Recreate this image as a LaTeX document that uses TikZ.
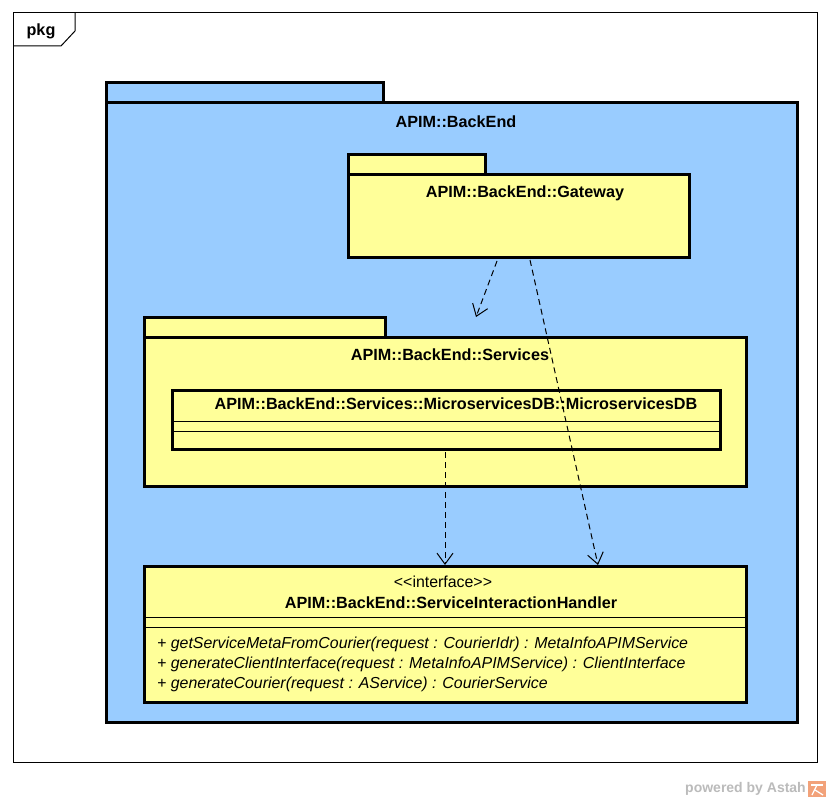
\documentclass[tikz,border=0pt]{standalone}
\usepackage{fontspec}
\setmainfont{Liberation Sans}
\usetikzlibrary{arrows.meta}
\definecolor{pkgblue}{HTML}{99CCFF}
\definecolor{pkgyellow}{HTML}{FFFF99}
\definecolor{astahgray}{HTML}{BBBBBB}
\definecolor{astahorange}{HTML}{F2A27A}
\begin{document}
\begin{tikzpicture}[x=1pt,y=-1pt,
  box/.style={draw, line width=3pt, anchor=north west, inner sep=0pt, outer sep=0pt},
  bluebox/.style={box, fill=pkgblue},
  yellowbox/.style={box, fill=pkgyellow},
  title/.style={inner sep=0pt, font=\fontsize{16.2}{19}\selectfont\bfseries},
  plain/.style={inner sep=0pt, font=\fontsize{15.9}{18}\selectfont},
  op/.style={inner sep=0pt, anchor=west, font=\fontsize{15.9}{18}\selectfont\itshape},
  sep/.style={line width=1pt},
  dep/.style={line width=1pt, dash pattern=on 6pt off 4pt,
    -{Straight Barb[length=11pt,width=16pt,line width=1pt]}}
]
\useasboundingbox (0,0) rectangle (829,802);
\fill[white] (0,0) rectangle (829,802);

% diagram frame
\draw[line width=1pt] (13,13) rectangle (817,762);
\draw[line width=1pt] (13,46) -- (61,46) -- (75,31) -- (75,13);
\node[title] (pkglabel) at (41,31) {pkg};

% APIM::BackEnd package
\node[bluebox, minimum width=277pt, minimum height=20pt] (betab) at (106,83) {};
\node[bluebox, minimum width=691pt, minimum height=619pt] (backend) at (106,103) {};
\node[title] (belabel) at (456,122) {APIM::BackEnd};

% Gateway package
\node[yellowbox, minimum width=137pt, minimum height=20pt] (gwtab) at (348,155) {};
\node[yellowbox, minimum width=341pt, minimum height=82pt] (gateway) at (348,175) {};
\node[title] (gwlabel) at (525,193) {APIM::BackEnd::Gateway};

% Services package
\node[yellowbox, minimum width=241pt, minimum height=20pt] (svtab) at (144,317) {};
\node[yellowbox, minimum width=602pt, minimum height=149pt] (services) at (144,337) {};
\node[title] (svlabel) at (450,355) {APIM::BackEnd::Services};

% MicroservicesDB class
\node[yellowbox, minimum width=548pt, minimum height=59pt] (msdb) at (172,390) {};
\node[title] (msdblabel) at (456,404) {APIM::BackEnd::Services::MicroservicesDB::MicroservicesDB};
\draw[sep] (172,421) -- (720,421);
\draw[sep] (172,431) -- (720,431);

% ServiceInteractionHandler interface
\node[yellowbox, minimum width=602pt, minimum height=136pt] (sih) at (144,566) {};
\node[plain] (stereo) at (443,582) {<\kern0pt<interface>\kern0pt>};
\node[title] (sihlabel) at (451,603) {APIM::BackEnd::ServiceInteractionHandler};
\draw[sep] (144,617) -- (746,617);
\draw[sep] (144,627) -- (746,627);
\node[op] (op1) at (157,644) {+ getServiceMetaFromCourier(request : CourierIdr) : MetaInfoAPIMService};
\node[op] (op2) at (157,664) {+ generateClientInterface(request : MetaInfoAPIMService) : ClientInterface};
\node[op] (op3) at (157,684) {+ generateCourier(request : AService) : CourierService};

% dependency end points
\coordinate (gwA) at (497,261);
\coordinate (svTip) at (476,317);
\coordinate (gwB) at (530,260);
\coordinate (sihTipB) at (598,565);
\coordinate (msA) at (445,452);
\coordinate (sihTipA) at (445,565);

\draw[dep] (gwA) -- (svTip);
\draw[dep] (gwB) -- (sihTipB);
\draw[dep] (msA) -- (sihTipA);

% powered by Astah
\node[inner sep=0pt, anchor=east, text=astahgray, font=\fontsize{14}{16}\selectfont\bfseries] (astah) at (806,789) {powered by Astah};
\fill[astahorange] (808,781) rectangle (826,797);
\draw[white, line width=1.3pt] (811,785) -- (823,785);
\draw[white, line width=1.3pt] (817,785) -- (812,795);
\draw[white, line width=1.3pt] (815,790) -- (823,795);
\end{tikzpicture}
\end{document}
